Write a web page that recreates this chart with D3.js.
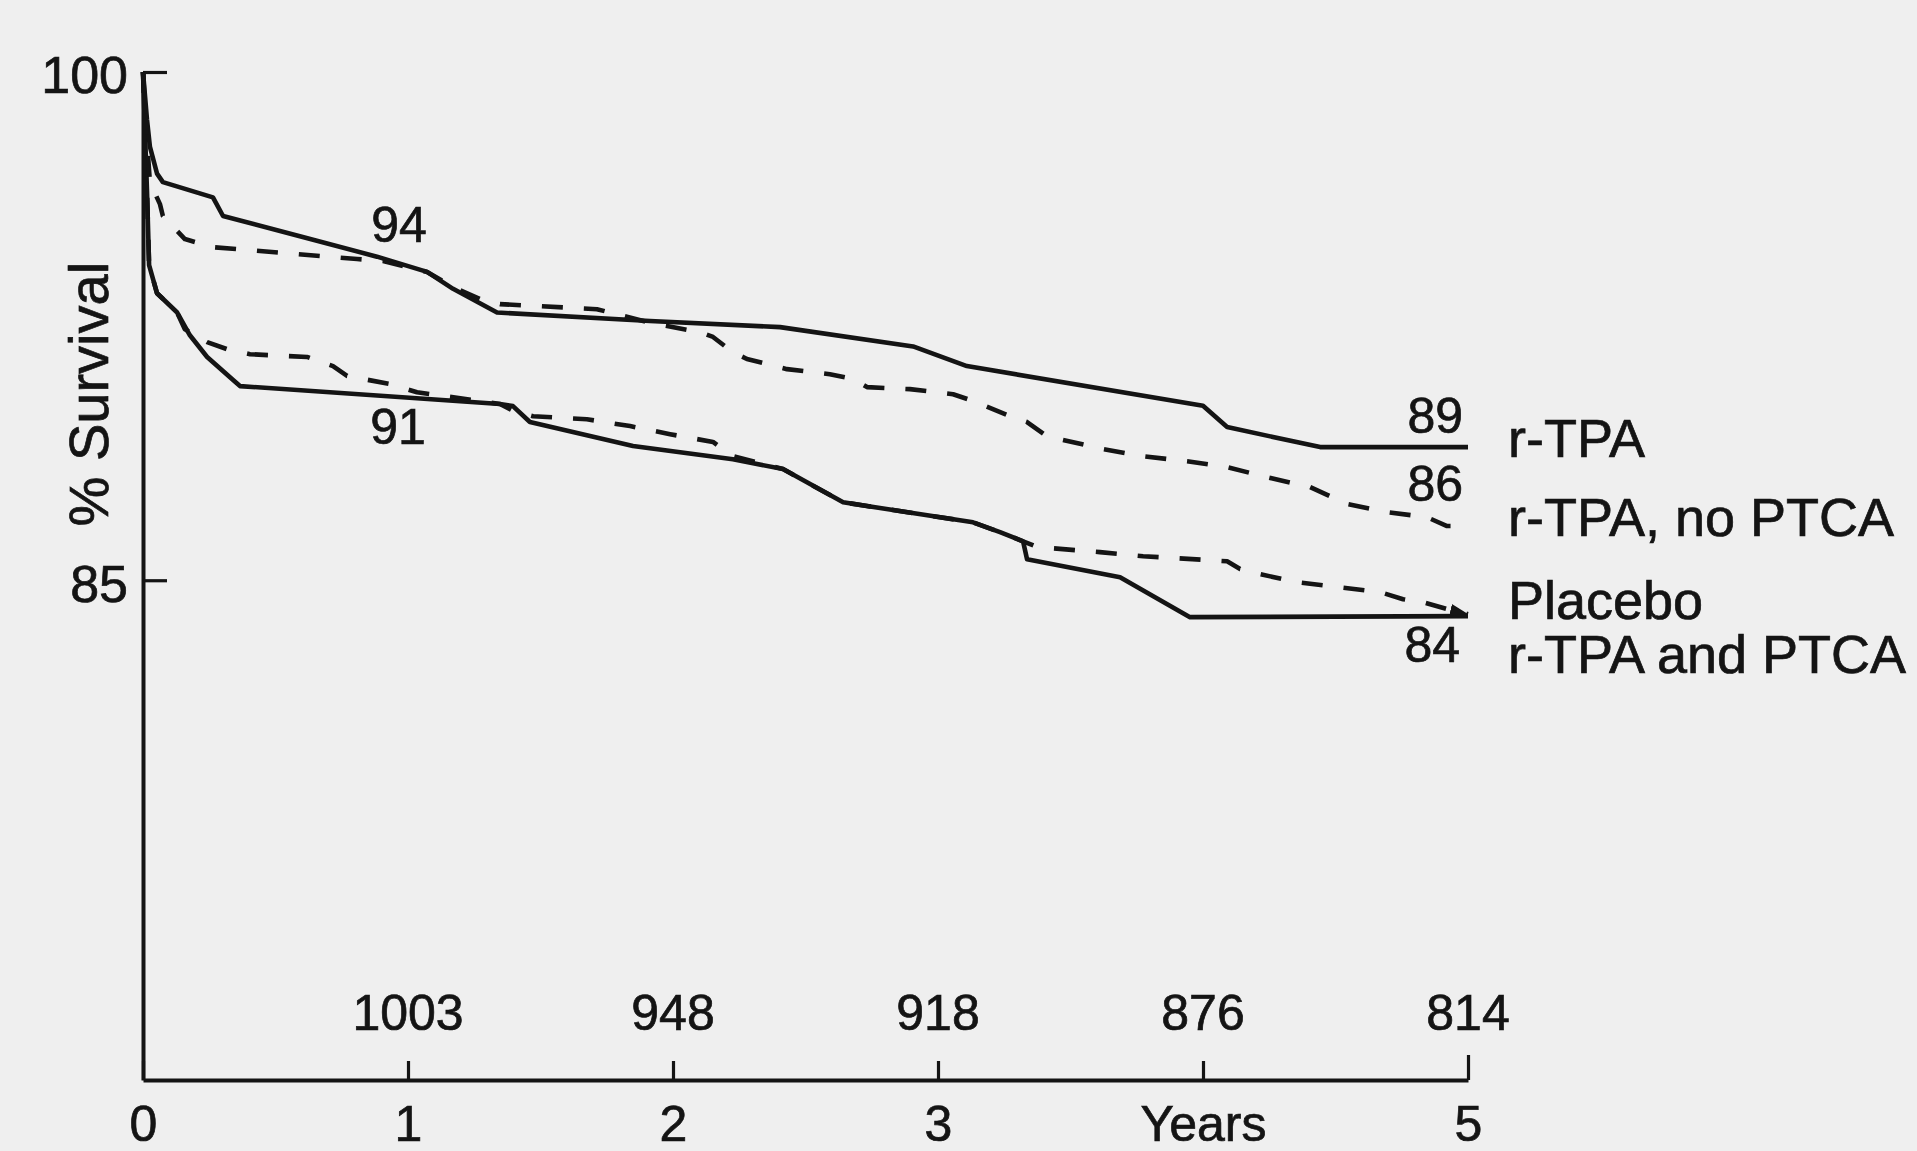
<!DOCTYPE html>
<html>
<head>
<meta charset="utf-8">
<script src="https://cdn.jsdelivr.net/npm/d3@7"></script>
<style>
  html, body { margin: 0; padding: 0; background: #efefef; }
  svg { display: block; }
  text { font-family: "Liberation Sans", Arial, Helvetica, sans-serif; fill: #141414; stroke: #141414; stroke-width: 0.7px; }
</style>
</head>
<body>
<svg id="chart" width="1917" height="1151"></svg>
<script>
// [years, % survival]
const rTpa = [
  [0, 100], [0.015, 98.6], [0.026, 97.8], [0.053, 97.0], [0.075, 96.75], [0.264, 96.3],
  [0.302, 95.75], [0.592, 95.15], [0.883, 94.55], [1.072, 94.1], [1.17, 93.6], [1.336, 92.9],
  [1.913, 92.65], [2.404, 92.47], [2.906, 91.9], [3.109, 91.32], [4.0, 90.15], [4.091, 89.52],
  [4.442, 88.93], [5, 88.93]
]
const rTpaNoPtca = [
  [0, 100], [0.015, 98.0], [0.026, 96.75], [0.064, 96.1], [0.075, 95.75], [0.158, 95.07],
  [0.264, 94.83], [0.808, 94.48], [0.906, 94.42], [1.072, 94.1], [1.17, 93.65], [1.272, 93.3],
  [1.347, 93.15], [1.713, 93.0], [1.913, 92.6], [2.102, 92.32], [2.151, 92.18], [2.226, 91.73],
  [2.279, 91.53], [2.43, 91.23], [2.592, 91.08], [2.679, 90.94], [2.732, 90.7], [2.894, 90.64],
  [3.057, 90.49], [3.132, 90.29], [3.272, 89.84], [3.336, 89.67], [3.411, 89.25], [3.623, 88.87],
  [3.774, 88.66], [3.94, 88.51], [4.091, 88.34], [4.242, 88.04], [4.404, 87.75], [4.543, 87.25],
  [4.694, 87.01], [4.845, 86.86], [4.921, 86.6], [5, 86.6]
]
const placebo = [
  [0, 100], [0.015, 96.5], [0.023, 94.3], [0.053, 93.47], [0.128, 92.91], [0.158, 92.41],
  [0.242, 92.03], [0.317, 91.82], [0.404, 91.67], [0.619, 91.59], [0.717, 91.32], [0.77, 91.03],
  [0.932, 90.79], [1.034, 90.55], [1.347, 90.2], [1.396, 90.0], [1.472, 89.84], [1.675, 89.75],
  [1.838, 89.55], [1.989, 89.31], [2.151, 89.08], [2.226, 88.66], [2.415, 88.28], [2.642, 87.3],
  [2.732, 87.19], [3.132, 86.71], [3.234, 86.42], [3.321, 86.15], [3.374, 85.98], [3.611, 85.83],
  [3.774, 85.71], [4.091, 85.56], [4.14, 85.33], [4.204, 85.2], [4.355, 84.94], [4.517, 84.79],
  [4.668, 84.65], [4.755, 84.44], [4.83, 84.35], [4.921, 84.15], [5, 84.0]
]
const rTpaAndPtca = [
  [0, 100], [0.015, 96.5], [0.023, 94.3], [0.053, 93.47], [0.128, 92.91], [0.177, 92.23],
  [0.242, 91.59], [0.34, 90.91], [0.366, 90.73], [1.347, 90.2], [1.396, 90.14], [1.46, 89.67],
  [1.849, 88.96], [2.226, 88.57], [2.415, 88.28], [2.642, 87.3], [2.732, 87.19], [3.132, 86.71],
  [3.234, 86.42], [3.321, 86.15], [3.336, 85.62], [3.687, 85.09], [3.951, 83.91], [5, 83.94]
]

const yearTicks = [0, 1, 2, 3, 4, 5]
const yearTickLabels = ['0', '1', '2', '3', 'Years', '5']
const survivalTicks = [85, 100]
const atRiskYears = [1, 2, 3, 4, 5]
const atRiskCounts = [1003, 948, 918, 876, 814]
const oneYearLabels = ['94', '91']
const fiveYearLabels = ['89', '86', '84']
const seriesNames = ['r-TPA', 'r-TPA, no PTCA', 'Placebo', 'r-TPA and PTCA']

const INK = '#141414'

const svg = d3.select('#chart')

const x = d3.scaleLinear().domain([0, 5]).range([143, 1468])
const y = d3.scaleLinear().domain([70.25, 100]).range([1080, 72])

const defs = svg.append('defs')
defs.append('marker')
  .attr('id', 'arrow')
  .attr('markerUnits', 'userSpaceOnUse')
  .attr('markerWidth', 20)
  .attr('markerHeight', 14)
  .attr('refX', 18)
  .attr('refY', 7)
  .attr('orient', 'auto')
  .append('path')
  .attr('d', 'M0,1 L18,7 L0,13 Z')
  .attr('fill', INK)

const line = d3.line()
  .x(d => x(d[0]))
  .y(d => y(d[1]))

const series = [
  { values: rTpaAndPtca, dashed: false },
  { values: placebo, dashed: true, arrow: true },
  { values: rTpa, dashed: false },
  { values: rTpaNoPtca, dashed: true }
]

svg.append('g').attr('class', 'curves')
  .selectAll('path')
  .data(series)
  .join('path')
  .attr('d', d => line(d.values))
  .attr('fill', 'none')
  .attr('stroke', INK)
  .attr('stroke-width', 4.6)
  .attr('stroke-linejoin', 'round')
  .attr('stroke-dasharray', d => d.dashed ? '21,21' : null)
  .attr('marker-end', d => d.arrow ? 'url(#arrow)' : null)

// axes
const xAxis = d3.axisBottom(x)
  .tickValues(yearTicks)
  .tickFormat((d, i) => yearTickLabels[i])
  .tickSizeInner(-19)
  .tickSizeOuter(0)

const gx = svg.append('g')
  .attr('transform', `translate(0,${y.range()[0]})`)
  .call(xAxis)
gx.select('.domain').attr('stroke', INK).attr('stroke-width', 4)
gx.selectAll('.tick line').attr('stroke', INK).attr('stroke-width', 3.2)
  .attr('y2', d => d === 5 ? -25 : -19)
gx.selectAll('.tick text')
  .attr('y', 61).attr('dy', 0)
  .attr('font-size', 50)
  .attr('fill', INK)

const yAxis = d3.axisLeft(y)
  .tickValues(survivalTicks)
  .tickSizeInner(-24)
  .tickSizeOuter(0)
  .tickPadding(15)

const gy = svg.append('g')
  .attr('transform', `translate(${x.range()[0]},0)`)
  .call(yAxis)
gy.select('.domain').attr('stroke', INK).attr('stroke-width', 4)
gy.selectAll('.tick line').attr('stroke', INK).attr('stroke-width', 3.2)
gy.selectAll('.tick text')
  .attr('dy', '0.4em')
  .attr('font-size', 52)
  .attr('fill', INK)

svg.selectAll('.tick text').attr('font-family', '"Liberation Sans", Arial, sans-serif')

svg.append('text')
  .attr('transform', `translate(108,${(y(100) + y(85)) / 2 + 68}) rotate(-90)`)
  .attr('text-anchor', 'middle')
  .attr('font-size', 56)
  .text('% Survival')

// numbers at risk
svg.append('g')
  .selectAll('text')
  .data(atRiskYears)
  .join('text')
  .attr('x', d => x(d))
  .attr('y', y.range()[0] - 50)
  .attr('text-anchor', 'middle')
  .attr('font-size', 50)
  .text((d, i) => atRiskCounts[i])

// 1-year survival labels
svg.append('text')
  .attr('x', x(1) - 9).attr('y', y(rTpa[9][1]) - 30)
  .attr('text-anchor', 'middle').attr('font-size', 50)
  .text(oneYearLabels[0])
svg.append('text')
  .attr('x', x(1) - 10).attr('y', y(rTpaAndPtca[9][1]) + 40)
  .attr('text-anchor', 'middle').attr('font-size', 50)
  .text(oneYearLabels[1])

// 5-year survival labels
const endX = x(5) - 5
svg.append('text')
  .attr('x', endX).attr('y', y(rTpa[rTpa.length - 1][1]) - 14)
  .attr('text-anchor', 'end').attr('font-size', 50)
  .text(fiveYearLabels[0])
svg.append('text')
  .attr('x', endX).attr('y', y(rTpaNoPtca[rTpaNoPtca.length - 1][1]) - 25)
  .attr('text-anchor', 'end').attr('font-size', 50)
  .text(fiveYearLabels[1])
svg.append('text')
  .attr('x', endX - 3).attr('y', y(rTpaAndPtca[rTpaAndPtca.length - 1][1]) + 46)
  .attr('text-anchor', 'end').attr('font-size', 50)
  .text(fiveYearLabels[2])

// series names at the right
const nameX = x(5) + 40
const nameY = [
  y(rTpa[rTpa.length - 1][1]) + 10,
  y(rTpaNoPtca[rTpaNoPtca.length - 1][1]) + 10,
  y(placebo[placebo.length - 1][1]) + 5,
  y(rTpaAndPtca[rTpaAndPtca.length - 1][1]) + 57
]
svg.append('g')
  .selectAll('text')
  .data(seriesNames)
  .join('text')
  .attr('x', nameX)
  .attr('y', (d, i) => nameY[i])
  .attr('font-size', 54)
  .text(d => d)
</script>
</body>
</html>
